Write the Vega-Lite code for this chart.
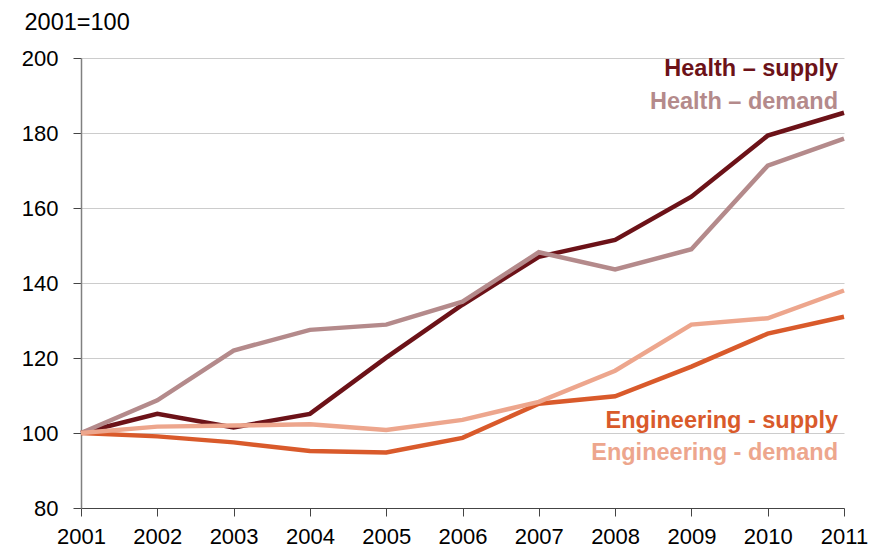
{
  "$schema": "https://vega.github.io/schema/vega-lite/v6.json",
  "width": 763,
  "height": 450,
  "autosize": {"type": "none"},
  "padding": {"left": 81, "top": 58, "right": 26, "bottom": 43},
  "background": "white",
  "config": {"view": {"stroke": null}, "font": "Liberation Sans"},
  "datasets": {
    "series": [
      {"series": "Health – supply", "year": 2001, "value": 100},
      {"series": "Health – supply", "year": 2002, "value": 105.1},
      {"series": "Health – supply", "year": 2003, "value": 101.5},
      {"series": "Health – supply", "year": 2004, "value": 105.1},
      {"series": "Health – supply", "year": 2005, "value": 120.1},
      {"series": "Health – supply", "year": 2006, "value": 134.2},
      {"series": "Health – supply", "year": 2007, "value": 147},
      {"series": "Health – supply", "year": 2008, "value": 151.5},
      {"series": "Health – supply", "year": 2009, "value": 163},
      {"series": "Health – supply", "year": 2010, "value": 179.3},
      {"series": "Health – supply", "year": 2011, "value": 185.4},
      {"series": "Health – demand", "year": 2001, "value": 100},
      {"series": "Health – demand", "year": 2002, "value": 108.7},
      {"series": "Health – demand", "year": 2003, "value": 122},
      {"series": "Health – demand", "year": 2004, "value": 127.5},
      {"series": "Health – demand", "year": 2005, "value": 128.9},
      {"series": "Health – demand", "year": 2006, "value": 135},
      {"series": "Health – demand", "year": 2007, "value": 148.2},
      {"series": "Health – demand", "year": 2008, "value": 143.6},
      {"series": "Health – demand", "year": 2009, "value": 149},
      {"series": "Health – demand", "year": 2010, "value": 171.3},
      {"series": "Health – demand", "year": 2011, "value": 178.5},
      {"series": "Engineering - supply", "year": 2001, "value": 100},
      {"series": "Engineering - supply", "year": 2002, "value": 99.1},
      {"series": "Engineering - supply", "year": 2003, "value": 97.5},
      {"series": "Engineering - supply", "year": 2004, "value": 95.2},
      {"series": "Engineering - supply", "year": 2005, "value": 94.8},
      {"series": "Engineering - supply", "year": 2006, "value": 98.7},
      {"series": "Engineering - supply", "year": 2007, "value": 107.8},
      {"series": "Engineering - supply", "year": 2008, "value": 109.8},
      {"series": "Engineering - supply", "year": 2009, "value": 117.7},
      {"series": "Engineering - supply", "year": 2010, "value": 126.5},
      {"series": "Engineering - supply", "year": 2011, "value": 131},
      {"series": "Engineering - demand", "year": 2001, "value": 100},
      {"series": "Engineering - demand", "year": 2002, "value": 101.7},
      {"series": "Engineering - demand", "year": 2003, "value": 102},
      {"series": "Engineering - demand", "year": 2004, "value": 102.3},
      {"series": "Engineering - demand", "year": 2005, "value": 100.8},
      {"series": "Engineering - demand", "year": 2006, "value": 103.5},
      {"series": "Engineering - demand", "year": 2007, "value": 108.3},
      {"series": "Engineering - demand", "year": 2008, "value": 116.6},
      {"series": "Engineering - demand", "year": 2009, "value": 128.9},
      {"series": "Engineering - demand", "year": 2010, "value": 130.6},
      {"series": "Engineering - demand", "year": 2011, "value": 138}
    ],
    "labels": [
      {"series": "Health – supply", "year": 2011, "value": 195.1},
      {"series": "Health – demand", "year": 2011, "value": 186.4},
      {"series": "Engineering - supply", "year": 2011, "value": 101.4},
      {"series": "Engineering - demand", "year": 2011, "value": 92.9}
    ]
  },
  "layer": [
    {
      "data": {"name": "series"},
      "mark": {"type": "line", "strokeWidth": 4.5, "clip": false},
      "encoding": {
        "x": {
          "field": "year", "type": "quantitative",
          "scale": {"domain": [2001, 2011], "nice": false, "zero": false},
          "axis": {
            "title": null, "values": [2001,2002,2003,2004,2005,2006,2007,2008,2009,2010,2011],
            "format": "d", "grid": false, "tickSize": 8, "labelFontSize": 22, "labelPadding": 10,
            "labelColor": "#000000", "domainColor": "#444444", "tickColor": "#444444",
            "labelFlush": false, "labelOverlap": false
          }
        },
        "y": {
          "field": "value", "type": "quantitative",
          "scale": {"domain": [80, 200], "nice": false, "zero": false},
          "axis": {
            "values": [80, 100, 120, 140, 160, 180, 200],
            "grid": true, "gridColor": "#cccccc", "gridWidth": 1,
            "domainColor": "#808080", "domainWidth": 1.5, "tickColor": "#444444", "tickSize": 8,
            "labelFontSize": 22, "labelPadding": 15, "labelColor": "#000000",
            "title": "2001=100", "titleAngle": 0, "titleAlign": "left", "titleBaseline": "alphabetic",
            "titleX": -57, "titleY": -29, "titleFontSize": 23.5, "titleFontWeight": "normal", "titleColor": "#000000"
          }
        },
        "color": {
          "field": "series", "type": "nominal",
          "scale": {
            "domain": ["Engineering - demand", "Engineering - supply", "Health – demand", "Health – supply"],
            "range": ["#eda68d", "#d95a2b", "#b48a8b", "#6c1218"]
          },
          "legend": null
        },
        "order": {"field": "year"}
      }
    },
    {
      "data": {"name": "labels"},
      "mark": {"type": "text", "align": "right", "baseline": "alphabetic", "fontSize": 23.5, "fontWeight": "bold", "dx": -6},
      "encoding": {
        "x": {"field": "year", "type": "quantitative"},
        "y": {"field": "value", "type": "quantitative"},
        "text": {"field": "series"},
        "color": {"field": "series", "type": "nominal", "legend": null}
      }
    }
  ]
}
